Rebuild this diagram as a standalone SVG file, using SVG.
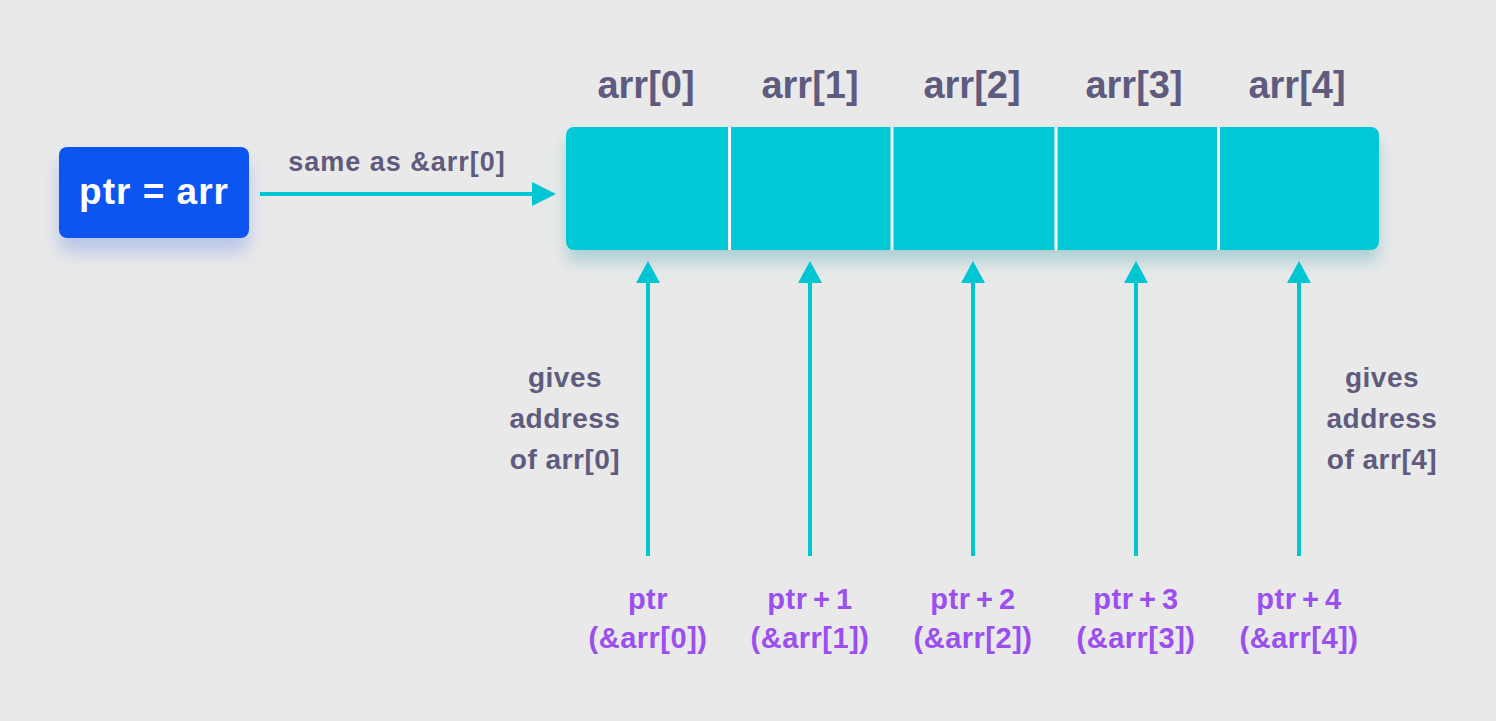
<svg xmlns="http://www.w3.org/2000/svg" width="1496" height="721" viewBox="0 0 1496 721">
<defs>
<style>
.lbl{font-family:"Liberation Sans",Arial,sans-serif;font-weight:bold;fill:#5e5b7e;text-anchor:middle}
.hdr{font-size:38px}
.note{font-size:28px;letter-spacing:0.5px}
.ptr{font-family:"Liberation Sans",Arial,sans-serif;font-weight:bold;fill:#9b4ff0;text-anchor:middle;font-size:29px;letter-spacing:0.5px;word-spacing:-3px}
.conn{stroke:#00c6d3;stroke-width:4;fill:none}
</style>
<filter id="shBlue" x="-30%" y="-30%" width="160%" height="180%">
<feDropShadow dx="0" dy="14" stdDeviation="9" flood-color="#8fa8e8" flood-opacity="0.55"/>
</filter>
<filter id="shCyan" x="-10%" y="-30%" width="120%" height="180%">
<feDropShadow dx="0" dy="12" stdDeviation="8" flood-color="#7fbcc2" flood-opacity="0.55"/>
</filter>
</defs>
<rect width="1496" height="721" fill="#e9e9e9"/>

<g id="ptr-node">
<rect x="59" y="147" width="190" height="91" rx="8" fill="#0a55f0" filter="url(#shBlue)"/>
<text x="154" y="204" font-family="'Liberation Sans',Arial,sans-serif" font-weight="bold" font-size="37" letter-spacing="1" fill="#ffffff" text-anchor="middle">ptr = arr</text>
</g>

<g id="array-node">
<rect x="566" y="127" width="813" height="123" rx="8" fill="#00c8d4" filter="url(#shCyan)"/>
<g stroke="#ffffff" stroke-width="3">
<line x1="729.5" y1="127" x2="729.5" y2="250"/>
<line x1="892" y1="127" x2="892" y2="250"/>
<line x1="1056" y1="127" x2="1056" y2="250"/>
<line x1="1218.5" y1="127" x2="1218.5" y2="250"/>
</g>
</g>

<g id="headers">
<text class="lbl hdr" x="646" y="98">arr[0]</text>
<text class="lbl hdr" x="810" y="98">arr[1]</text>
<text class="lbl hdr" x="972" y="98">arr[2]</text>
<text class="lbl hdr" x="1134" y="98">arr[3]</text>
<text class="lbl hdr" x="1297" y="98">arr[4]</text>
</g>

<g id="connectors">
<line x1="260" y1="194" x2="540" y2="194" class="conn"/>
<path d="M532,182 L556,194 L532,206 z" fill="#00c6d3"/>
<g class="conn">
<line x1="648" y1="280" x2="648" y2="556"/>
<line x1="810" y1="280" x2="810" y2="556"/>
<line x1="973" y1="280" x2="973" y2="556"/>
<line x1="1136" y1="280" x2="1136" y2="556"/>
<line x1="1299" y1="280" x2="1299" y2="556"/>
</g>
<g fill="#00c6d3">
<path d="M636,283 L648,261 L660,283 z"/>
<path d="M798,283 L810,261 L822,283 z"/>
<path d="M961,283 L973,261 L985,283 z"/>
<path d="M1124,283 L1136,261 L1148,283 z"/>
<path d="M1287,283 L1299,261 L1311,283 z"/>
</g>
</g>

<g id="edge-label">
<text class="lbl" x="397" y="171" font-size="27" letter-spacing="1">same as &amp;arr[0]</text>
</g>

<g id="note-left">
<text class="lbl note" x="565" y="387">gives</text>
<text class="lbl note" x="565" y="428">address</text>
<text class="lbl note" x="565" y="469">of arr[0]</text>
</g>
<g id="note-right">
<text class="lbl note" x="1382" y="387">gives</text>
<text class="lbl note" x="1382" y="428">address</text>
<text class="lbl note" x="1382" y="469">of arr[4]</text>
</g>

<g id="ptr-labels">
<text class="ptr" x="648" y="609">ptr</text>
<text class="ptr" x="648" y="648">(&amp;arr[0])</text>
<text class="ptr" x="810" y="609">ptr + 1</text>
<text class="ptr" x="810" y="648">(&amp;arr[1])</text>
<text class="ptr" x="973" y="609">ptr + 2</text>
<text class="ptr" x="973" y="648">(&amp;arr[2])</text>
<text class="ptr" x="1136" y="609">ptr + 3</text>
<text class="ptr" x="1136" y="648">(&amp;arr[3])</text>
<text class="ptr" x="1299" y="609">ptr + 4</text>
<text class="ptr" x="1299" y="648">(&amp;arr[4])</text>
</g>
</svg>
